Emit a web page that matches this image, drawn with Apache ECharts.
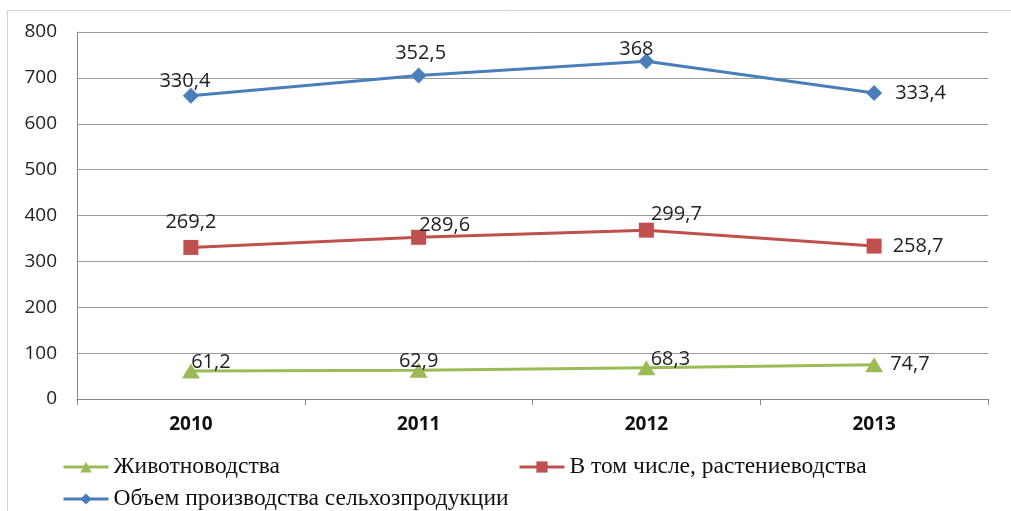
<!DOCTYPE html>
<html><head><meta charset="utf-8">
<script src="https://cdn.jsdelivr.net/npm/echarts@6/dist/echarts.min.js"></script>
<style>html,body{margin:0;padding:0;background:#fff}#c{width:1011px;height:511px}</style>
</head><body><div id="c"></div>
<script>
var categories = ['2010','2011','2012','2013'];
var livestock = [61.2, 62.9, 68.3, 74.7];
var crops = [269.2, 289.6, 299.7, 258.7];
var total = [330.4, 352.5, 368, 333.4];
var yTicks = [0, 100, 200, 300, 400, 500, 600, 700, 800];
var names = ['Животноводства', 'В том числе, растениеводства', 'Объем производства сельхозпродукции'];

var greenPos = [{position:'top',offset:[20,14]},{position:'top',offset:[0,14]},{position:'top',offset:[24,14]},{position:'right',offset:[2,0]}];
var redPos = [{position:'top',offset:[0,-3]},{position:'top',offset:[26,11]},{position:'top',offset:[30,7]},{position:'right',offset:[6,0]}];
var bluePos = [{position:'top',offset:[-6,8]},{position:'top',offset:[2,1]},{position:'top',offset:[-10,11]},{position:'right',offset:[8,0]}];

function mk(vals, pos){ return vals.map(function(v,i){ return {value:v, label:pos[i]}; }); }
function fmt(p){ return String(p.data.value).replace('.', ','); }

var chart = echarts.init(document.getElementById('c'));
var labelStyle = {show:true, formatter:fmt, fontFamily:'Open Sans', fontSize:20, color:'#222'};
var legendText = {fontFamily:'Liberation Serif', fontSize:23.5, color:'#111'};
var legendLine = {width:3};
chart.setOption({
  animation:false,
  graphic:[{type:'rect', shape:{x:7.5,y:10.5,width:1100,height:600}, style:{fill:'none', stroke:'#d0d0d0', lineWidth:1}, silent:true}],
  grid:{left:77, right:23, top:32, bottom:112},
  legend:[
    {data:[names[0]], left:57, top:450, itemWidth:45, itemHeight:14, textStyle:legendText, lineStyle:legendLine},
    {data:[names[1]], left:513, top:450, itemWidth:45, itemHeight:14, textStyle:legendText, lineStyle:legendLine},
    {data:[names[2]], left:57, top:482, itemWidth:45, itemHeight:14, textStyle:legendText, lineStyle:legendLine}
  ],
  xAxis:{type:'category', data:categories, boundaryGap:true,
    axisLine:{lineStyle:{color:'#888'}}, axisTick:{show:true, length:6, lineStyle:{color:'#888'}},
    axisLabel:{fontFamily:'Open Sans', fontWeight:'bold', fontSize:19, color:'#111', margin:16}},
  yAxis:{type:'value', min:0, max:800, interval:100,
    axisLine:{show:true, lineStyle:{color:'#888'}}, axisTick:{show:false},
    splitLine:{lineStyle:{color:'#999', width:1}},
    axisLabel:{fontFamily:'Open Sans', fontSize:19, color:'#222', margin:20,
      formatter:function(v){ return yTicks.indexOf(v)>=0 ? String(v) : ''; }}},
  series:[
    {name:names[0], type:'line', stack:'all', data:mk(livestock, greenPos), symbol:'triangle', symbolSize:[18,15],
      itemStyle:{color:'#9BBB59'}, lineStyle:{width:3, color:'#9BBB59'}, label:labelStyle},
    {name:names[1], type:'line', stack:'all', data:mk(crops, redPos), symbol:'rect', symbolSize:15,
      itemStyle:{color:'#C0504D'}, lineStyle:{width:3, color:'#C0504D'}, label:labelStyle},
    {name:names[2], type:'line', stack:'all', data:mk(total, bluePos), symbol:'diamond', symbolSize:16,
      itemStyle:{color:'#4A7EBB'}, lineStyle:{width:3, color:'#4A7EBB'}, label:labelStyle}
  ]
});
</script></body></html>
